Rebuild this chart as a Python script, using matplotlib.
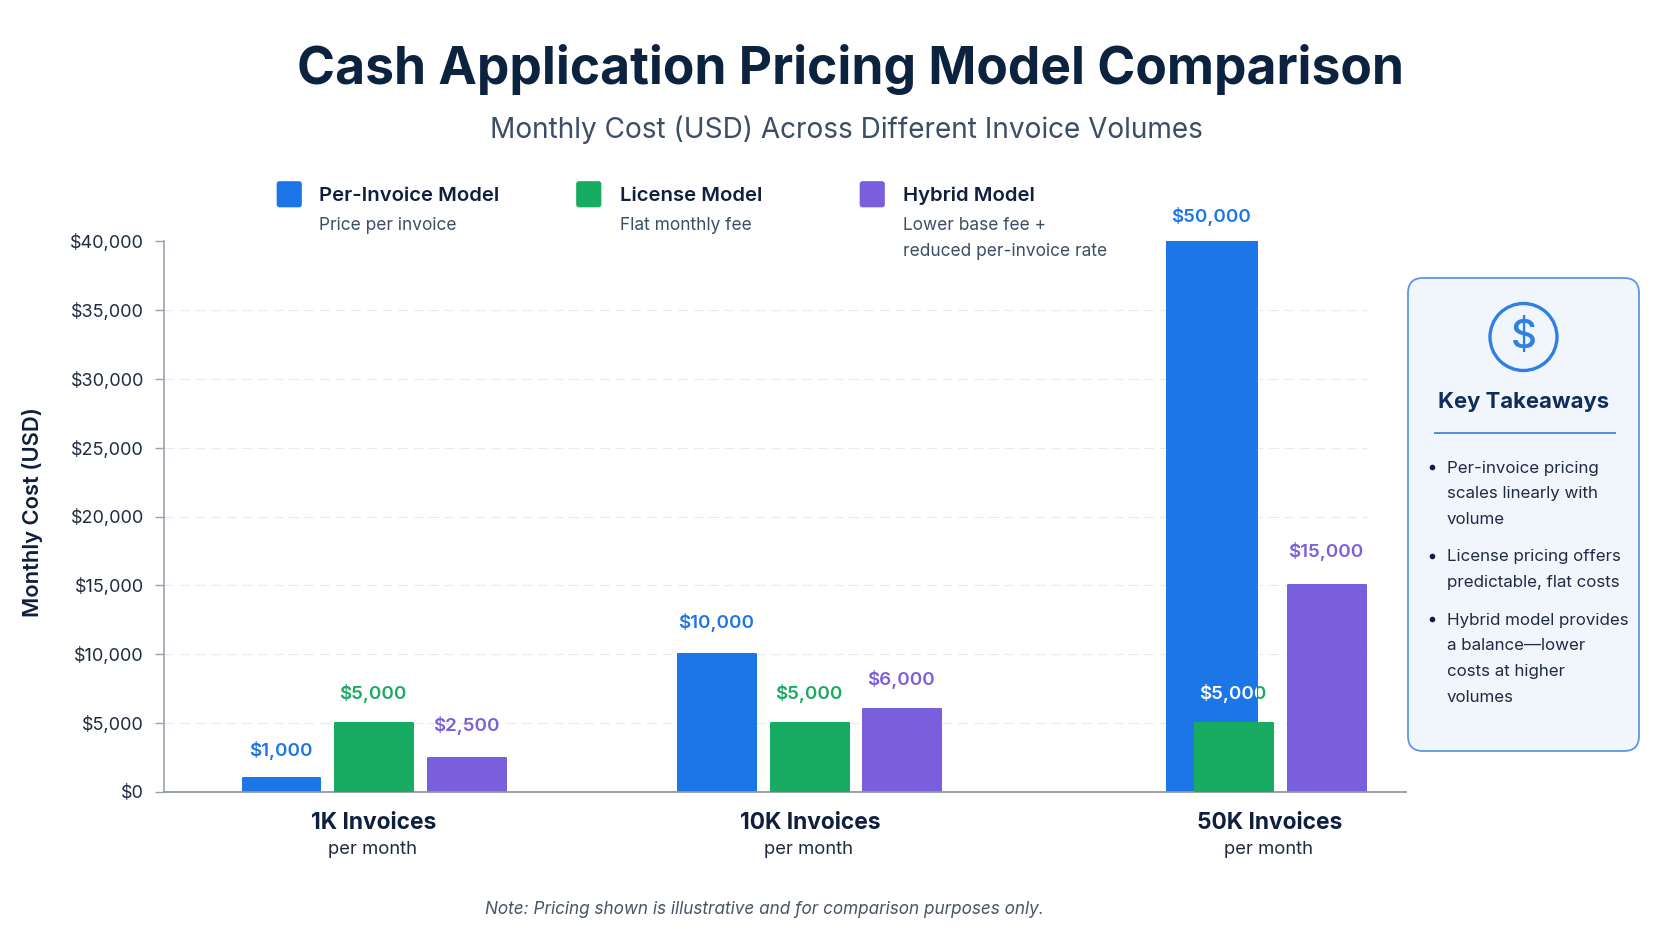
import numpy as np
import matplotlib
matplotlib.use("Agg")
import matplotlib.pyplot as plt
from matplotlib.patches import Circle, FancyBboxPatch
from matplotlib.ticker import FuncFormatter

W, H = 1672, 941

# Chart data
volumes = ["1K Invoices", "10K Invoices", "50K Invoices"]
per_invoice = [1000, 10000, 50000]
license_fee = [5000, 5000, 5000]
hybrid = [2500, 6000, 15000]
y_ticks = [0, 5000, 10000, 15000, 20000, 25000, 30000, 35000, 40000]
takeaways = [
    ["Per-invoice pricing", "scales linearly with", "volume"],
    ["License pricing offers", "predictable, flat costs"],
    ["Hybrid model provides", "a balance\u2014lower", "costs at higher", "volumes"],
]

# Palette
BLUE, GREEN, PURPLE = "#1D76E8", "#18AB62", "#7A5FDC"
NAVY, INK, SLATE = "#0F1F3D", "#1E2B42", "#3C4D66"

plt.rcParams["font.family"] = ["Inter", "DejaVu Sans"]
fig = plt.figure(figsize=(W / 100, H / 100), dpi=100, facecolor="white")

# Plot area spans x 164-1406 and y 241-792 on the canvas
ax = fig.add_axes([164 / W, (H - 792) / H, (1406 - 164) / W, (792 - 241) / H])
ax.set_xlim(164, 1406)
ax.set_ylim(0, 40000)
ax.set_facecolor("none")

# Overlay in canvas pixels for titles, legend and the side panel
ov = fig.add_axes([0, 0, 1, 1], zorder=5)
ov.set_xlim(0, W)
ov.set_ylim(H, 0)
ov.axis("off")


def label(x, y, s, size, color=INK, weight="normal", ha="left", **kw):
    return ov.text(x, y, s, fontsize=size, color=color, fontweight=weight,
                   ha=ha, va="center", **kw)


# Axes styling
for side in ("top", "right"):
    ax.spines[side].set_visible(False)
ax.spines["left"].set_color("#9AA3AE")
ax.spines["left"].set_linewidth(1.2)
ax.spines["bottom"].set_color("#8F98A3")
ax.spines["bottom"].set_linewidth(1.3)
ax.set_yticks(y_ticks)
ax.yaxis.set_major_formatter(FuncFormatter(lambda v, _: f"${v:,.0f}"))
ax.tick_params(axis="y", length=6.5, width=1, color="#9AA3AE", pad=8,
               labelsize=13, labelcolor=INK)
ax.tick_params(axis="x", length=0, labelbottom=False)

# Dashed guides stop just short of the right end of the baseline
ax.hlines(y_ticks[1:-1], 164, 1367, color="#E8EAED", lw=0.8,
          linestyles=(0, (9, 5)), zorder=0)

# Bar layout: group centres and per-series offsets, widths in axis units
centers = np.array([374, 810, 1270])
offsets = {
    "per": np.array([-92.5, -93, -58]),
    "lic": np.array([0, 0, -36.5]),
    "hyb": np.array([93, 92, 56.5]),
}
widths = {"per": [77, 78, 90], "lic": [78, 78, 78], "hyb": [78, 78, 78]}
lifts = {"per": [28, 32, 25], "lic": [30, 30, 30], "hyb": [32, 30, 34]}
series = [("per", per_invoice, BLUE, 2), ("lic", license_fee, GREEN, 4), ("hyb", hybrid, PURPLE, 2)]

blue_bars = None
for key, values, color, z in series:
    bars = ax.bar(centers + offsets[key], values, width=widths[key], color=color,
                  edgecolor=color, linewidth=1.44, joinstyle="round", zorder=z)
    if key == "per":
        blue_bars = bars
    for i, (x, v) in enumerate(zip(centers + offsets[key], values)):
        anchor = min(v, ax.get_ylim()[1])
        ann = ax.annotate(f"${v:,.0f}", xy=(x - 1, anchor), xytext=(0, lifts[key][i]),
                          textcoords="offset pixels", ha="center", va="center",
                          fontsize=13.5, fontweight="semibold", color=color,
                          annotation_clip=False, zorder=1)
        if key != "lic" or i != 2:
            ann.set_zorder(6)
        else:
            # This label straddles the tall blue bar: white where it crosses the bar
            white = ax.annotate(f"${v:,.0f}", xy=(x - 1, anchor), xytext=(0, lifts[key][i]),
                                textcoords="offset pixels", ha="center", va="center",
                                fontsize=13.5, fontweight="semibold", color="white",
                                annotation_clip=False, zorder=6)
            white.set_clip_path(blue_bars[2])

# Category captions below the baseline
for c, name in zip(centers, volumes):
    label(c, 823, name, 16.4, NAVY, "bold", ha="center")
    label(c - 1, 850, "per month", 13.3, INK, ha="center")

# Headline block
label(850.5, 69.5, "Cash Application Pricing Model Comparison", 37.1, "#0C2340", "bold", ha="center")
label(846, 130, "Monthly Cost (USD) Across Different Invoice Volumes", 20.15, SLATE, ha="center")
label(33, 512, "Monthly Cost (USD)", 15.8, NAVY, "semibold", ha="center", rotation=90)
label(764, 909, "Note: Pricing shown is illustrative and for comparison purposes only.", 12.35,
      "#475569", ha="center", style="italic")

# Legend entries with their descriptions
legend = [
    (276.5, 319, BLUE, "Per-Invoice Model", ["Price per invoice"]),
    (576, 620, GREEN, "License Model", ["Flat monthly fee"]),
    (859.5, 903, PURPLE, "Hybrid Model", ["Lower base fee +", "reduced per-invoice rate"]),
]
for x0, tx, color, head, subs in legend:
    ov.add_patch(FancyBboxPatch((x0 + 1, 182), 23.5, 24.5, boxstyle="round,pad=0,rounding_size=2",
                                fc=color, ec=color, lw=1.2))
    label(tx, 195.5, head, 14.6, NAVY, "semibold")
    for j, sub in enumerate(subs):
        label(tx, 225 + 26.5 * j, sub, 12.45, SLATE)

# Key takeaways panel
ov.add_patch(FancyBboxPatch((1408, 278), 231, 473, boxstyle="round,pad=0,rounding_size=15",
                            fc="#F1F6FD", ec="#5E97DF", lw=1.3))
ov.add_patch(Circle((1523.5, 337), 33.5, fc="none", ec="#2F80E2", lw=2.4))
label(1523.5, 337, "$", 29, "#2F80E2", "medium", ha="center")
label(1523.5, 402, "Key Takeaways", 15.9, "#0F2D5A", "bold", ha="center")
ov.plot([1434, 1616], [432.5, 432.5], color="#3E86DC", lw=1.3, solid_capstyle="butt")

tops = [467, 556, 619]
for top, lines in zip(tops, takeaways):
    ov.add_patch(Circle((1432.5, top + 0.5), 2.8, fc=NAVY, ec="none"))
    for j, line in enumerate(lines):
        label(1447, top + 1 + 25.8 * j, line, 12.2, INK)

fig.savefig("out.png", dpi=100)
